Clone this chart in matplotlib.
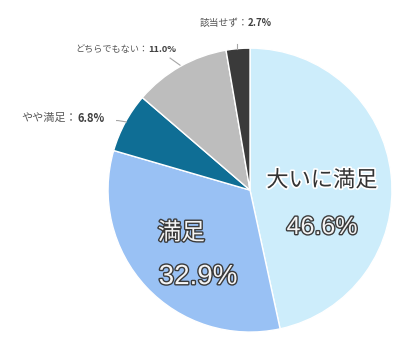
import matplotlib
matplotlib.use("Agg")
import matplotlib.pyplot as plt
import matplotlib.patheffects as pe

plt.rcParams['font.family'] = ['Noto Sans CJK JP', 'DejaVu Sans']

categories = ['大いに満足', '満足', 'やや満足', 'どちらでもない', '該当せず']
values = [46.6, 32.9, 6.8, 11.0, 2.7]
colors = ['#CDEDFB', '#99C1F4', '#0F6E95', '#BDBDBD', '#3A3A3A']

fig = plt.figure(figsize=(4.0, 3.54), dpi=100)
ax = fig.add_axes([0.27, 0.062, 0.71, 0.802])
ax.pie(values, colors=colors, startangle=90, counterclock=False,
       wedgeprops=dict(edgecolor='white', linewidth=1.0))
ax.set_xlim(-1, 1)
ax.set_ylim(-1, 1)
ax.set_aspect('equal')
ax.axis('off')

dark_fill = [pe.withStroke(linewidth=2.5, foreground='white')]
light_fill = [pe.withStroke(linewidth=2.0, foreground='#3A3A3A')]
num_font = ['Liberation Sans', 'DejaVu Sans']

ax.text(0.507, 0.07, categories[0], ha='center', va='center', fontsize=16,
        color='#333333', path_effects=dark_fill)
ax.text(0.507, -0.26, f'{values[0]}%', ha='center', va='center', fontsize=18,
        family=num_font, color='#F4F4F4', path_effects=light_fill)
ax.text(-0.65, -0.303, categories[1], ha='left', va='center', fontsize=17,
        color='#F4F4F4', path_effects=light_fill)
ax.text(-0.366, -0.613, f'{values[1]}%', ha='center', va='center', fontsize=20,
        family=num_font, color='#F4F4F4', path_effects=light_fill)

gray = '#595959'
outer = [
    (4, -0.014, 1.176, 7.0),
    (3, -0.718, 0.993, 6.6),
    (2, -1.218, 0.507, 8.0),
]
for idx, xs, ys, fs in outer:
    ax.text(xs, ys, categories[idx] + '：', ha='right', va='center', fontsize=fs,
            color=gray, clip_on=False)
    ax.text(xs, ys, f'{values[idx]:.1f}%', ha='left', va='center', fontsize=fs,
            color='#404040', fontweight='bold', clip_on=False)

line_kw = dict(color='#A6A6A6', linewidth=0.8, clip_on=False)
ax.plot([-0.092, -0.092], [1.03, 0.995], **line_kw)
ax.plot([-0.563, -0.493], [0.93, 0.88], **line_kw)
ax.plot([-0.94, -0.93, -0.87], [0.49, 0.49, 0.48], **line_kw)

fig.savefig('out.png', dpi=100, facecolor='white')
